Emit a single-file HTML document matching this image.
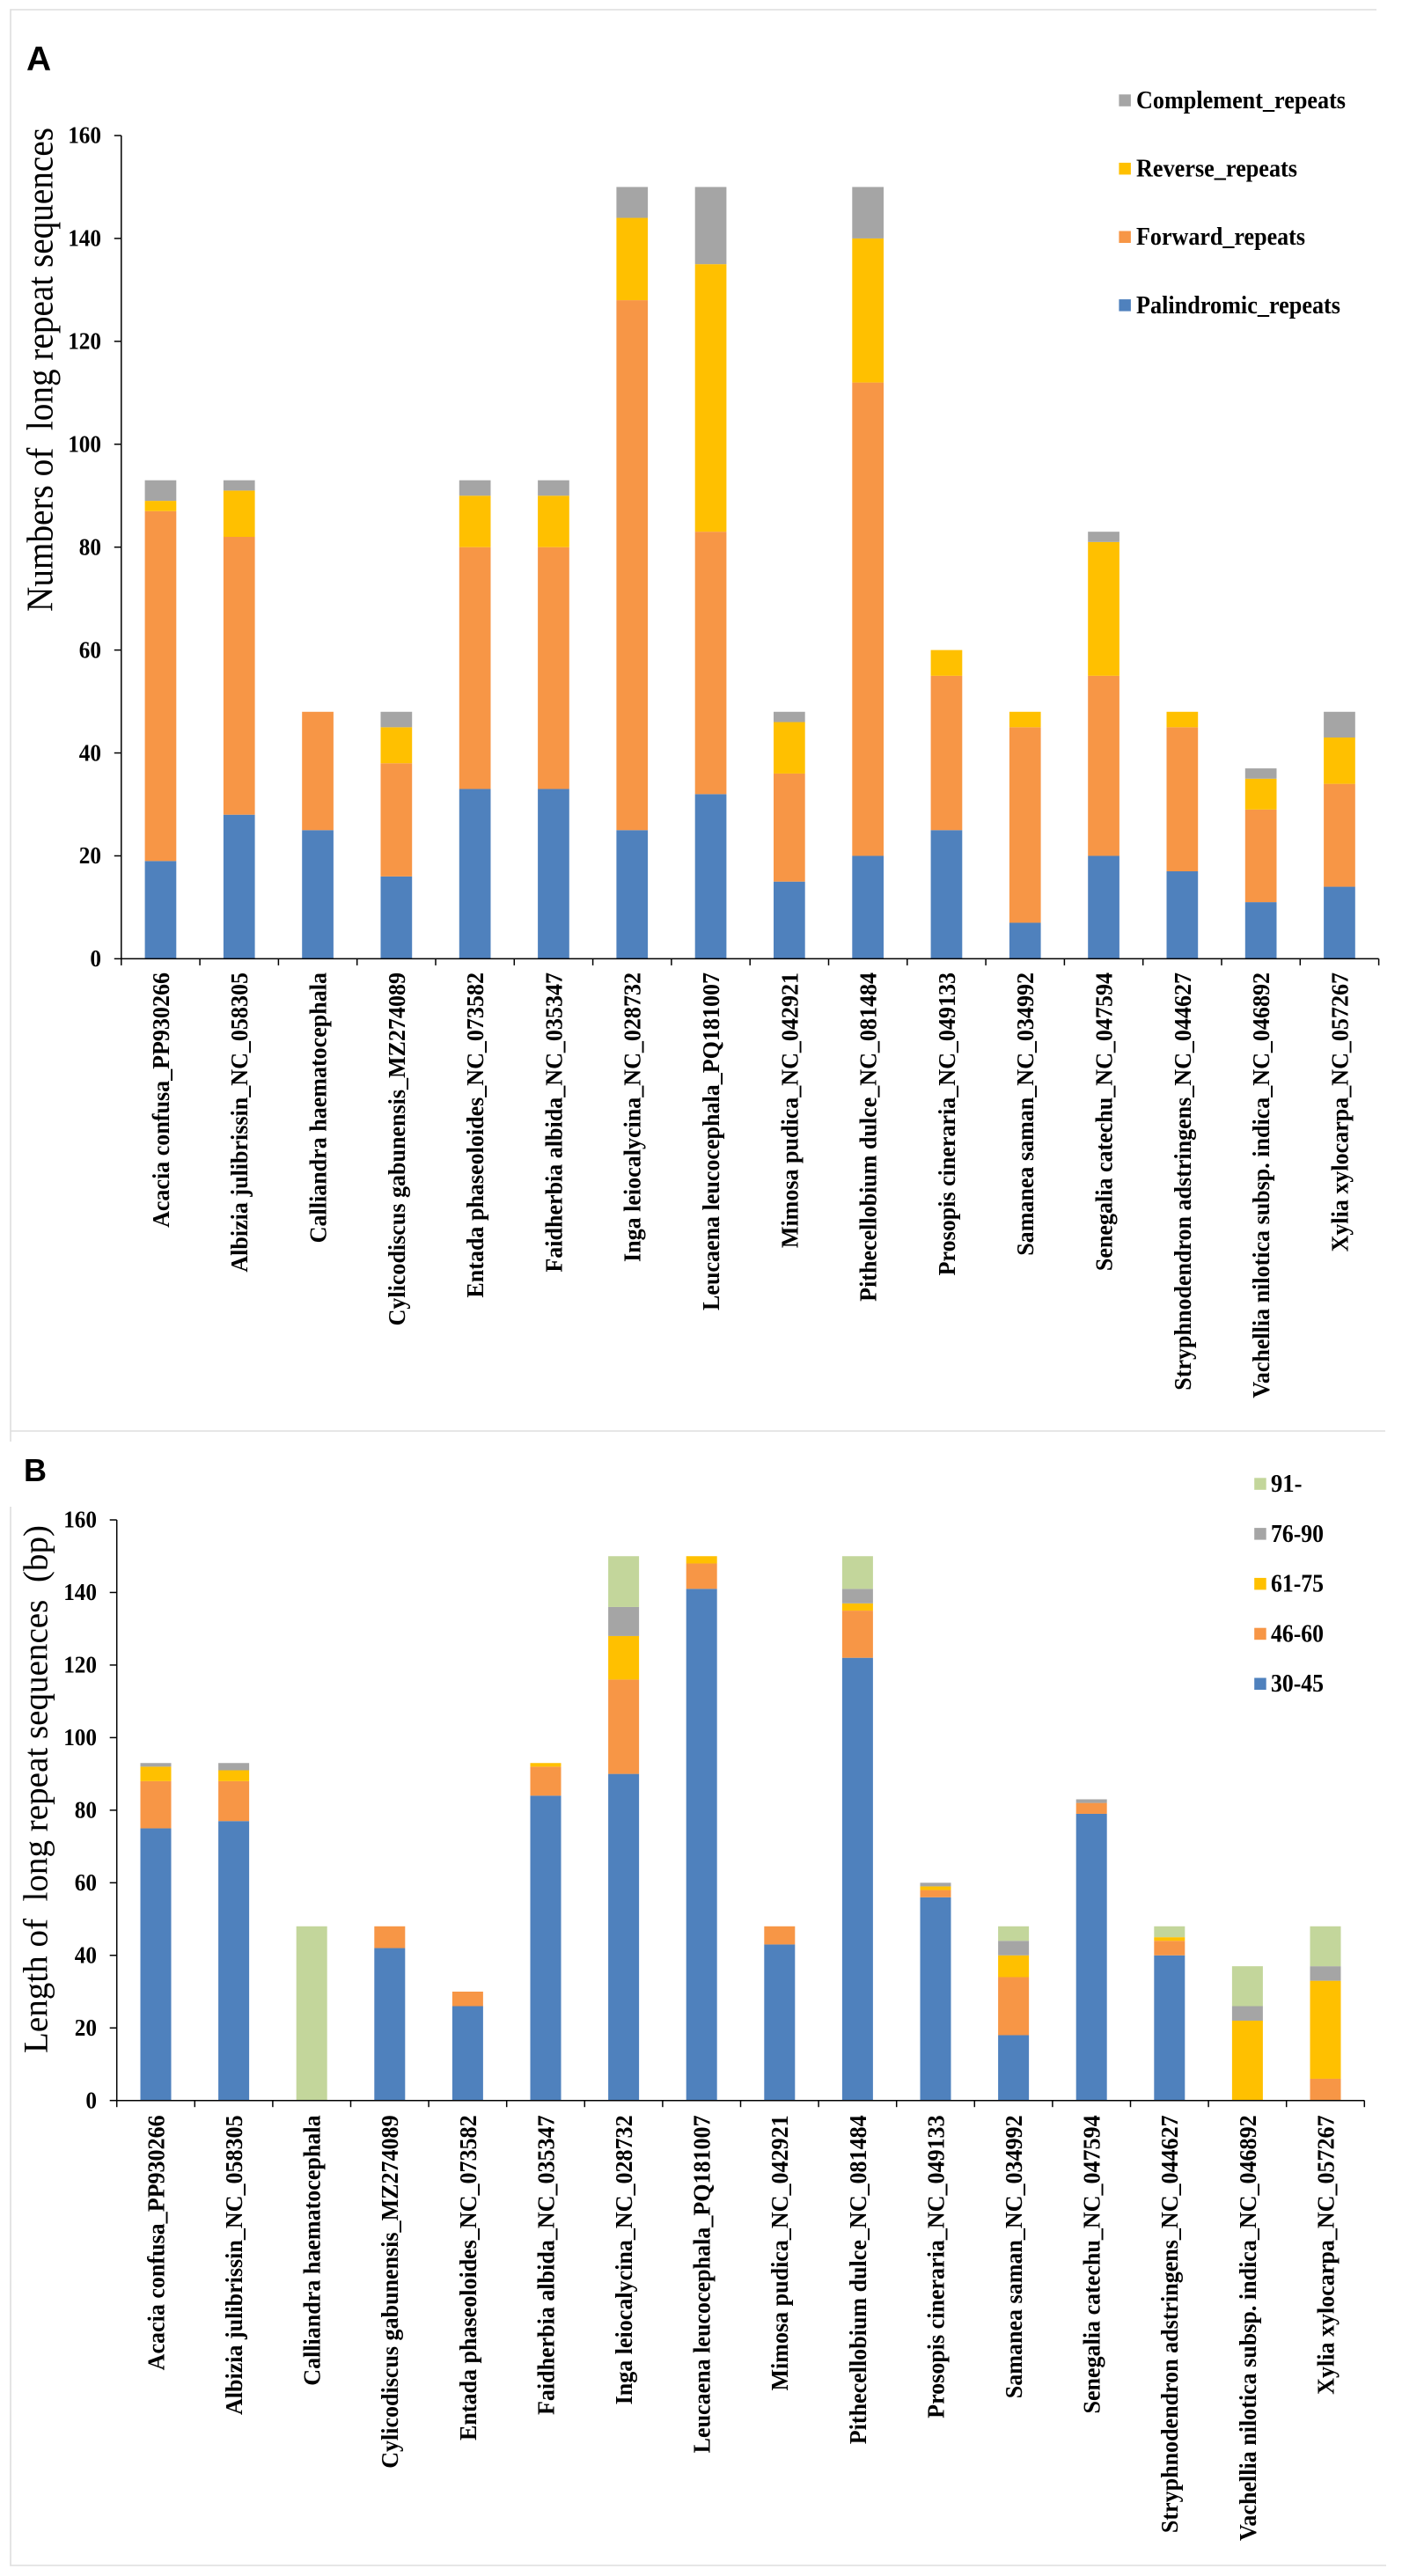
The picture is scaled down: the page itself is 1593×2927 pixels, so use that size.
<!DOCTYPE html>
<html lang="en">
<head>
<meta charset="utf-8">
<title>Long repeat sequences across species</title>
<style>
html,body{margin:0;padding:0;background:#fff;}
svg{display:block;}
text{font-family:"Liberation Serif",serif;fill:#000;white-space:pre;}
.panel-letter{font-family:"Liberation Sans",sans-serif;font-weight:700;}
.b{font-weight:700;}
</style>
</head>
<body>
<svg id="figure" xmlns="http://www.w3.org/2000/svg" width="1593" height="2927" viewBox="0 0 1593 2927">
  <rect x="0" y="0" width="1593" height="2927" fill="#ffffff"/>
  <g stroke="#dddddd" stroke-width="1.6" fill="none">
    <path d="M12 1638V11H1564"/>
    <path d="M12 1626H1574"/>
    <path d="M12 1712V2915H1575"/>
  </g>
  <text class="panel-letter" x="30" y="80" font-size="39">A</text>
  <text class="panel-letter" x="27" y="1683" font-size="36">B</text>
  <g id="chart-a"></g>
  <g id="chart-b"></g>
</svg>
<script>
const categories = ["Acacia confusa_PP930266","Albizia julibrissin_NC_058305","Calliandra haematocephala","Cylicodiscus gabunensis_MZ274089","Entada phaseoloides_NC_073582","Faidherbia albida_NC_035347","Inga leiocalycina_NC_028732","Leucaena leucocephala_PQ181007","Mimosa pudica_NC_042921","Pithecellobium dulce_NC_081484","Prosopis cineraria_NC_049133","Samanea saman_NC_034992","Senegalia catechu_NC_047594","Stryphnodendron adstringens_NC_044627","Vachellia nilotica subsp. indica_NC_046892","Xylia xylocarpa_NC_057267"];
const yTickValues = [0,20,40,60,80,100,120,140,160];

const palindromicRepeats = [19,28,25,16,33,33,25,32,15,20,25,7,20,17,11,14];
const forwardRepeats     = [68,54,23,22,47,47,103,51,21,92,30,38,35,28,18,20];
const reverseRepeats     = [2,9,0,7,10,10,16,52,10,28,5,3,26,3,6,9];
const complementRepeats  = [4,2,0,3,3,3,6,15,2,10,0,0,2,0,2,5];

const len30to45 = [75,77,0,42,26,84,90,141,43,122,56,18,79,40,0,0];
const len46to60 = [13,11,0,6,4,8,26,7,5,13,2,16,3,4,0,6];
const len61to75 = [4,3,0,0,0,1,12,2,0,2,1,6,0,1,22,27];
const len76to90 = [1,2,0,0,0,0,8,0,0,4,1,4,1,0,4,4];
const len91plus = [0,0,48,0,0,0,14,0,0,9,0,4,0,3,11,11];

const seriesNamesA = ["Palindromic_repeats","Forward_repeats","Reverse_repeats","Complement_repeats"];
const seriesNamesB = ["30-45","46-60","61-75","76-90","91-"];
const yTitleA = "Numbers of  long repeat sequences";
const yTitleB = "Length of  long repeat sequences  (bp)";

const BLUE = "#4f81bd", ORANGE = "#f79646", YELLOW = "#ffc000", GREY = "#a5a5a5", GREEN = "#c3d69b";
const NS = "http://www.w3.org/2000/svg";

function make(tag, parent, attrs, txt) {
  const el = document.createElementNS(NS, tag);
  for (const k in attrs) el.setAttribute(k, attrs[k]);
  if (txt !== undefined) el.textContent = txt;
  parent.appendChild(el);
  return el;
}

function drawChart(root, cfg) {
  const x = i => cfg.x0 + cfg.step * i;
  const y = v => cfg.y0 - (v / 160) * (cfg.y0 - cfg.y160);

  // bars
  const barsGroup = make("g", root, {});
  
  
  categories.forEach((cat, i) => {
    let total = 0;
    cfg.series.forEach((vals, s) => {
      const v = vals[i];
      if (v > 0) {
        const r = make("rect", barsGroup, {
          x: x(i) + cfg.step / 2 - cfg.barW / 2,
          y: y(total + v),
          width: cfg.barW,
          height: y(total) - y(total + v),
          fill: cfg.colors[s]
        });
        
        
      }
      total += v;
    });
  });

  // axes
  const axes = make("g", root, {stroke: "#000", "stroke-width": 1.5, fill: "none"});
  
  
  const yAxis = make("line", axes, {x1: cfg.x0, x2: cfg.x0, y1: y(160), y2: y(0)});
  
  
  const xAxis = make("line", axes, {x1: x(0), x2: x(categories.length), y1: y(0), y2: y(0)});
  
  

  yTickValues.forEach(v => {
    const t = make("line", axes, {x1: cfg.x0 - 8, x2: cfg.x0, y1: y(v), y2: y(v)});
    
    
    const label = String(v);
    const lab = make("text", root, {
      x: cfg.yLabelX - label.length * 12.6, y: y(v) + 8.7, "font-size": 27.5, class: "b",
      textLength: label.length * 12.6, lengthAdjust: "spacingAndGlyphs"
    }, label);
    
    
  });

  for (let i = 0; i <= categories.length; i++) {
    const t = make("line", axes, {x1: x(i), x2: x(i), y1: y(0), y2: y(0) + 7.5});
    
    
  }

  categories.forEach((cat, i) => {
    const px = x(i) + cfg.step / 2 + 9.4;
    const lab = make("text", root, {
      transform: "translate(" + px + " " + cfg.xLabelTop + ") rotate(-90) scale(0.94 1)",
      "text-anchor": "end", "font-size": 27.7, class: "b"
    }, cat);
    
    
  });

  // y title
  const title = make("text", root, {
    transform: "translate(" + cfg.titleX + " " + cfg.titleBottom + ") rotate(-90)",
    "font-size": cfg.titleSize, textLength: cfg.titleLen, lengthAdjust: "spacingAndGlyphs"
  }, cfg.title);
  
  

  // legend
  const legend = make("g", root, {});
  
  
  cfg.names.forEach((name, s) => {
    const row = cfg.names.length - 1 - s;
    const cy = cfg.legendTop + row * cfg.legendGap;
    const sw = make("rect", legend, {x: cfg.legendX, y: cy - 6.7, width: 13.5, height: 13.5, fill: cfg.colors[s]});
    
    
    const tx = make("text", legend, {
      x: cfg.legendTextX, y: cy + 9, "font-size": cfg.legendFont, class: "b",
      textLength: cfg.legendWidths[s], lengthAdjust: "spacingAndGlyphs"
    }, name);
    
    
  });
}

drawChart(document.getElementById("chart-a"), {
  x0: 137.8, step: 89.3, y0: 1089.4, y160: 154, barW: 35.7,
  series: [palindromicRepeats, forwardRepeats, reverseRepeats, complementRepeats],
  colors: [BLUE, ORANGE, YELLOW, GREY],
  names: seriesNamesA,
  legendWidths: [232, 192, 183, 238],
  legendX: 1271.4, legendTextX: 1291, legendTop: 114, legendGap: 77.6, legendFont: 28,
  yLabelX: 115, xLabelTop: 1105,
  title: yTitleA, titleX: 59.3, titleBottom: 695, titleSize: 42, titleLen: 550
});

drawChart(document.getElementById("chart-b"), {
  x0: 132.7, step: 88.6, y0: 2386.7, y160: 1727, barW: 35,
  series: [len30to45, len46to60, len61to75, len76to90, len91plus],
  colors: [BLUE, ORANGE, YELLOW, GREY, GREEN],
  names: seriesNamesB,
  legendWidths: [60, 60, 60, 60, 35.5],
  legendX: 1425.2, legendTextX: 1444, legendTop: 1686, legendGap: 56.8, legendFont: 29,
  yLabelX: 110, xLabelTop: 2403.4,
  title: yTitleB, titleX: 53.6, titleBottom: 2333, titleSize: 39, titleLen: 600
});
</script>
</body>
</html>
